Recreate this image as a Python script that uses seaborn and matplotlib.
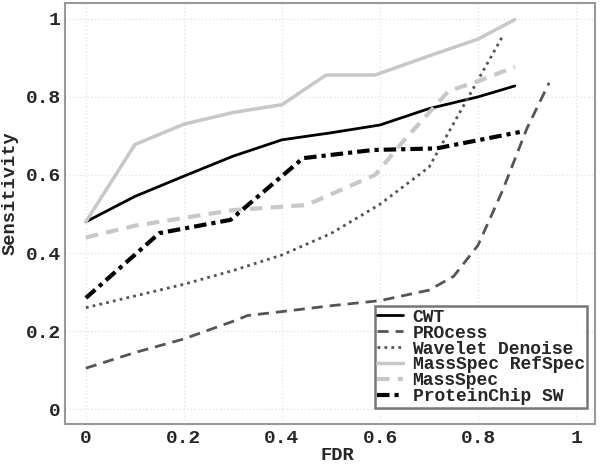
import matplotlib
matplotlib.use("Agg")
import matplotlib.pyplot as plt
import seaborn as sns
import pandas as pd

# ---- data ----
cwt_x = [0.0, 0.1, 0.2, 0.3, 0.4, 0.5, 0.6, 0.7, 0.8, 0.875]
cwt_y = [0.48, 0.545, 0.597, 0.648, 0.69, 0.708, 0.728, 0.77, 0.80, 0.828]

process_x = [0.0, 0.1, 0.2, 0.3, 0.33, 0.4, 0.5, 0.6, 0.7, 0.75, 0.8, 0.85, 0.9, 0.945]
process_y = [0.105, 0.145, 0.18, 0.225, 0.24, 0.25, 0.265, 0.278, 0.305, 0.34, 0.42, 0.56, 0.72, 0.836]

wavelet_x = [0.0, 0.1, 0.2, 0.3, 0.4, 0.5, 0.6, 0.7, 0.85]
wavelet_y = [0.26, 0.29, 0.32, 0.355, 0.395, 0.45, 0.525, 0.62, 0.955]

refspec_x = [0.0, 0.1, 0.2, 0.3, 0.4, 0.49, 0.59, 0.7, 0.8, 0.875]
refspec_y = [0.48, 0.678, 0.73, 0.76, 0.78, 0.856, 0.856, 0.905, 0.948, 0.998]

massspec_x = [0.0, 0.1, 0.2, 0.3, 0.45, 0.59, 0.65, 0.74, 0.8, 0.875]
massspec_y = [0.44, 0.47, 0.49, 0.51, 0.523, 0.60, 0.69, 0.815, 0.84, 0.877]

chip_x = [0.0, 0.15, 0.295, 0.443, 0.586, 0.715, 0.885]
chip_y = [0.285, 0.451, 0.485, 0.643, 0.664, 0.668, 0.71]

labels = ["CWT", "PROcess", "Wavelet Denoise", "MassSpec RefSpec", "MassSpec", "ProteinChip SW"]
xticks = [0, 0.2, 0.4, 0.6, 0.8, 1]
yticks = [0, 0.2, 0.4, 0.6, 0.8, 1]
tick_labels = ["0", "0.2", "0.4", "0.6", "0.8", "1"]

series = [
    (cwt_x, cwt_y, dict(color="black", lw=2.0, ls="-")),
    (process_x, process_y, dict(color="#555555", lw=2.0, dashes=(4, 2.5))),
    (wavelet_x, wavelet_y, dict(color="#555555", lw=2.0, dashes=(1, 1.5))),
    (refspec_x, refspec_y, dict(color="#c8c8c8", lw=2.5, ls="-")),
    (massspec_x, massspec_y, dict(color="#c8c8c8", lw=3.0, dashes=(3, 2))),
    (chip_x, chip_y, dict(color="black", lw=3.0, dashes=(3, 1.2, 1, 1.2))),
]

sns.set_style("white")
plt.rcParams["font.family"] = ["Liberation Mono", "DejaVu Sans Mono"]
plt.rcParams["font.weight"] = "bold"

fig = plt.figure(figsize=(6.0, 4.68), dpi=100)
ax = fig.add_axes([0.108, 0.094, 0.884, 0.900])

for (xs, ys, st), lab in zip(series, labels):
    df = pd.DataFrame({"FDR": xs, "Sensitivity": ys})
    kw = dict(st)
    dashes = kw.pop("dashes", None)
    sns.lineplot(data=df, x="FDR", y="Sensitivity", ax=ax, sort=False,
                 estimator=None, label=lab, **kw)
    l = ax.lines[-1]
    if dashes is not None:
        l.set_dashes(dashes)

ax.set_xlim(-0.043, 1.039)
ax.set_ylim(-0.038, 1.041)
ax.set_xticks(xticks)
ax.set_yticks(yticks)
ax.set_xticklabels(tick_labels)
ax.set_yticklabels(tick_labels)
ax.tick_params(direction="in", length=6, width=1, color="#999999",
               labelsize=14, pad=4)
ax.tick_params(axis="y", pad=3)
for lbl in ax.get_xticklabels() + ax.get_yticklabels():
    lbl.set_fontweight("bold")

ax.grid(True, color="#e6e6e6", linestyle=":", linewidth=1)
for s in ax.spines.values():
    s.set_color("#999999")
    s.set_linewidth(1.5)

ax.set_xlabel("FDR", fontsize=13.5, fontweight="bold")
ax.set_ylabel("Sensitivity", fontsize=13.5, fontweight="bold")
ax.xaxis.set_label_coords(0.513, -0.055)
ax.yaxis.set_label_coords(-0.087, 0.549)

leg = ax.legend(loc="lower right", bbox_to_anchor=(0.985, 0.038), borderaxespad=0,
                frameon=True, fancybox=False, shadow=False,
                prop={"size": 13, "weight": "bold"}, labelspacing=-0.06,
                handlelength=1.4, handletextpad=0.55, borderpad=0.15)
leg.get_frame().set_edgecolor("#555555")
leg.get_frame().set_linewidth(1.8)

fig.savefig("out.png", dpi=100)
